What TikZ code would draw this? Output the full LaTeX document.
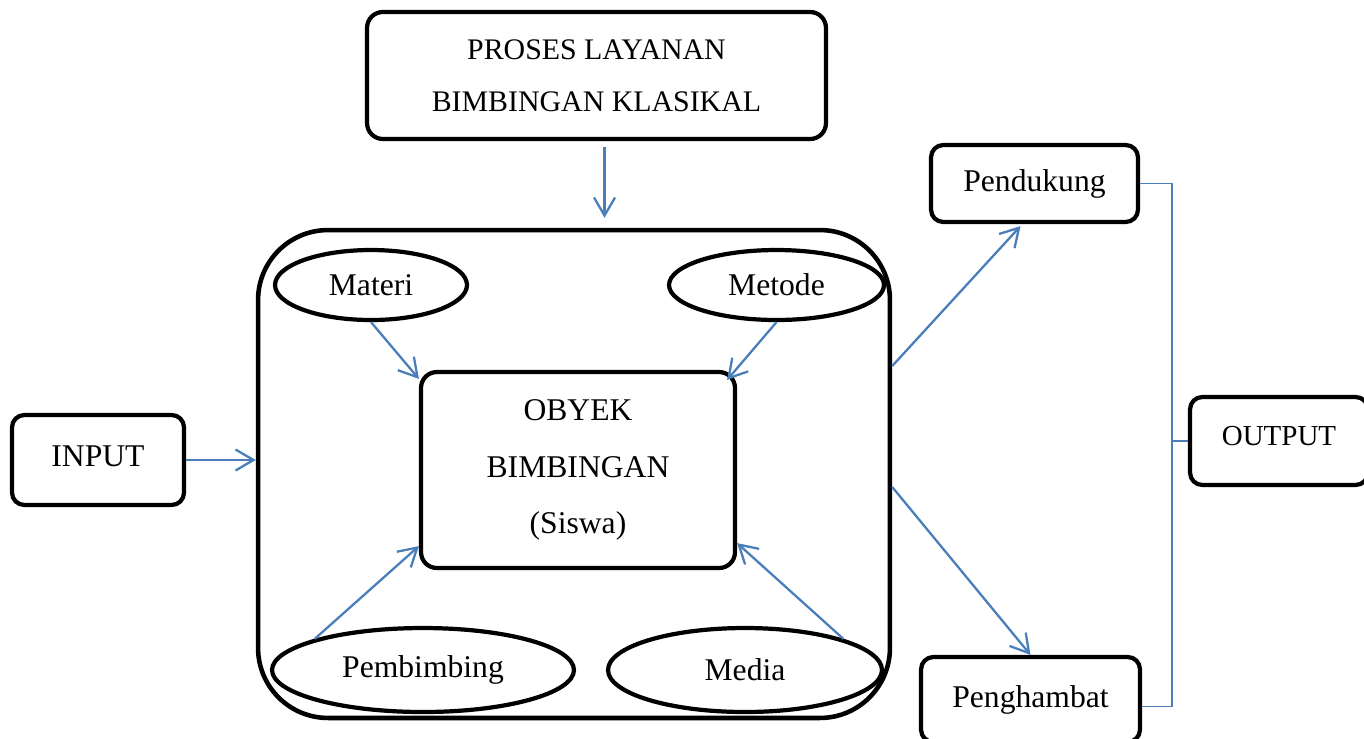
\documentclass[tikz,border=0pt]{standalone}
\usepackage{fontspec}
\setmainfont{Liberation Serif}
\usepackage{tikz}
\usetikzlibrary{shapes.geometric, arrows.meta, calc}
\definecolor{lineblue}{RGB}{74,126,187}
\tikzset{
  block/.style  = {rectangle, rounded corners=7pt, draw=black, line width=2.4pt,
                   align=center, inner sep=0pt, font=\fontsize{18}{32}\selectfont},
  frame/.style  = {rectangle, rounded corners=1.4cm, draw=black, line width=2.6pt},
  oval/.style   = {ellipse, draw=black, line width=2.4pt, inner sep=0pt,
                   font=\fontsize{18}{20}\selectfont},
  arrow/.style  = {-{Straight Barb[length=3.6mm, width=4.2mm]}, line width=1.3pt, lineblue},
  link/.style   = {line width=1.1pt, lineblue},
}

\begin{document}
\begin{tikzpicture}[x=0.02cm, y=-0.02cm]
  \useasboundingbox (0,0) rectangle (1364,738);

  % proses di tengah
  \node[frame, minimum width=12.64cm, minimum height=9.76cm] (wadah) at (574,474) {};
  \node[block, rounded corners=9pt, minimum width=6.28cm, minimum height=3.92cm] (obyek) at (578,470)
       {OBYEK\\BIMBINGAN\\(Siswa)};
  \node[oval, minimum width=3.84cm, minimum height=1.4cm]  (materi)     at (371,285)   {Materi};
  \node[oval, minimum width=4.3cm,  minimum height=1.4cm]  (metode)     at (776.5,285) {Metode};
  \node[oval, minimum width=6.04cm, minimum height=1.68cm] (pembimbing) at (423,670)   {Pembimbing};
  \node[oval, minimum width=5.48cm, minimum height=1.68cm] (media)      at (745,670)   {Media};

  \node[block, rounded corners=9pt, minimum width=9.18cm, minimum height=2.54cm,
        font=\fontsize{17}{29.5}\selectfont] (proses) at (596.5,75.5)
       {PROSES LAYANAN\\BIMBINGAN KLASIKAL};
  \node[block, minimum width=3.44cm, minimum height=1.8cm] (input) at (98,460)
       {\raisebox{0.16cm}{INPUT}};

  % hasil
  \node[block, minimum width=4.14cm, minimum height=1.54cm] (pendukung)  at (1034.5,183.5) {Pendukung};
  \node[block, minimum width=4.38cm, minimum height=1.7cm]  (penghambat) at (1030.5,699.5) {Penghambat};
  \node[block, minimum width=3.56cm, minimum height=1.76cm,
        font=\fontsize{16.5}{20}\selectfont] (output) at (1279,441)
       {\raisebox{0.22cm}{OUTPUT}};

  \draw[arrow, shorten <=0.12cm, shorten >=0.2cm]
       ($(proses.south)+(8,0)$) -- ($(proses.south |- wadah.north)+(8,0)$);
  \draw[arrow] (input.east) -- (input.east -| wadah.west);
  \draw[arrow] (materi.south) -- ($(obyek.north west)+(0,9)$);
  \draw[arrow] (metode.south) -- ($(obyek.north east)+(-10,10)$);
  \draw[arrow] (pembimbing.north west) -- ($(obyek.south west)+(0,-24)$);
  \draw[arrow] (media.north east) -- ($(obyek.south east)+(0,-27)$);
  \draw[arrow] ($(wadah.east)+(0,-108)$) -- ($(pendukung.south)+(-14,2)$);
  \draw[arrow] ($(wadah.east)+(0,13)$) -- (penghambat.north);

  \coordinate (sisi) at (1172,441);
  \draw[link] (pendukung.east) -| (sisi) |- ($(penghambat.east)+(0,7)$);
  \draw[link] (sisi) -- (output.west);
\end{tikzpicture}
\end{document}
